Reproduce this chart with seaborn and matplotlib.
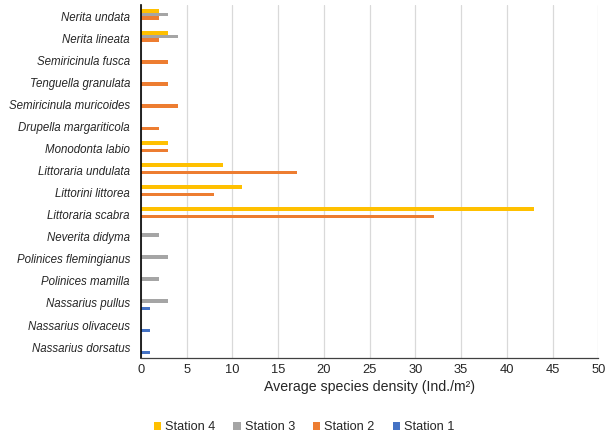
import numpy as np
import pandas as pd
import matplotlib
matplotlib.use("Agg")
import matplotlib.pyplot as plt
import seaborn as sns

# ---------- DATA ----------
species = [
    "Nerita undata", "Nerita lineata", "Semiricinula fusca", "Tenguella granulata",
    "Semiricinula muricoides", "Drupella margariticola", "Monodonta labio",
    "Littoraria undulata", "Littorini littorea", "Littoraria scabra",
    "Neverita didyma", "Polinices flemingianus", "Polinices mamilla",
    "Nassarius pullus", "Nassarius olivaceus", "Nassarius dorsatus",
]
station_4 = [2, 3, 0, 0, 0, 0, 3, 9, 11, 43, 0, 0, 0, 0, 0, 0]
station_3 = [3, 4, 0, 0, 0, 0, 0, 0, 0, 0, 2, 3, 2, 3, 0, 0]
station_2 = [2, 2, 3, 3, 4, 2, 3, 17, 8, 32, 0, 0, 0, 0, 0, 0]
station_1 = [0, 0, 0, 0, 0, 0, 0, 0, 0, 0, 0, 0, 0, 1, 1, 1]

stations = ["Station 4", "Station 3", "Station 2", "Station 1"]
colors = ["#FFC000", "#A5A5A5", "#ED7D31", "#4472C4"]

# long format table for seaborn
rows = []
for st, vals in zip(stations, [station_4, station_3, station_2, station_1]):
    for sp, v in zip(species, vals):
        rows.append({"species": sp, "station": st, "density": v})
df = pd.DataFrame(rows)

# ---------- PLOT ----------
sns.set_style("white")
plt.rcParams["font.family"] = ["Liberation Sans", "DejaVu Sans"]

fig = plt.figure(figsize=(6.08, 4.32), dpi=100)
ax = fig.add_axes([0.232, 0.171, 0.752, 0.817])

sns.barplot(data=df, y="species", x="density", hue="station",
            order=species, hue_order=stations, palette=colors,
            orient="h", width=0.66, saturation=1, linewidth=0,
            ax=ax, legend=True)

ax.set_xlim(0, 50)
ax.set_xticks(range(0, 51, 5))
ax.set_ylim(len(species) - 0.5, -0.5)
ax.xaxis.grid(True, color="#D9D9D9", linewidth=0.9)
ax.set_axisbelow(True)
ax.tick_params(axis="x", labelsize=9.3, length=0, pad=4)
ax.tick_params(axis="y", labelsize=8.3, length=0, pad=8)
for lbl in ax.get_yticklabels():
    lbl.set_fontstyle("italic")
ax.set_ylabel("")
ax.set_xlabel("Average species density (Ind./m²)", fontsize=10.2, labelpad=3)

for side in ["top", "right"]:
    ax.spines[side].set_visible(False)
ax.spines["left"].set_color("black")
ax.spines["left"].set_linewidth(1.2)
ax.spines["bottom"].set_color("#404040")
ax.spines["bottom"].set_linewidth(0.9)

handles, labels = ax.get_legend_handles_labels()
ax.get_legend().remove()
fig.legend(handles, labels, loc="lower center", bbox_to_anchor=(0.5, -0.03),
           ncol=4, frameon=False, fontsize=9.2, handlelength=0.6,
           handleheight=0.6, handletextpad=0.3, columnspacing=1.4)

fig.savefig("out.png", dpi=100)
